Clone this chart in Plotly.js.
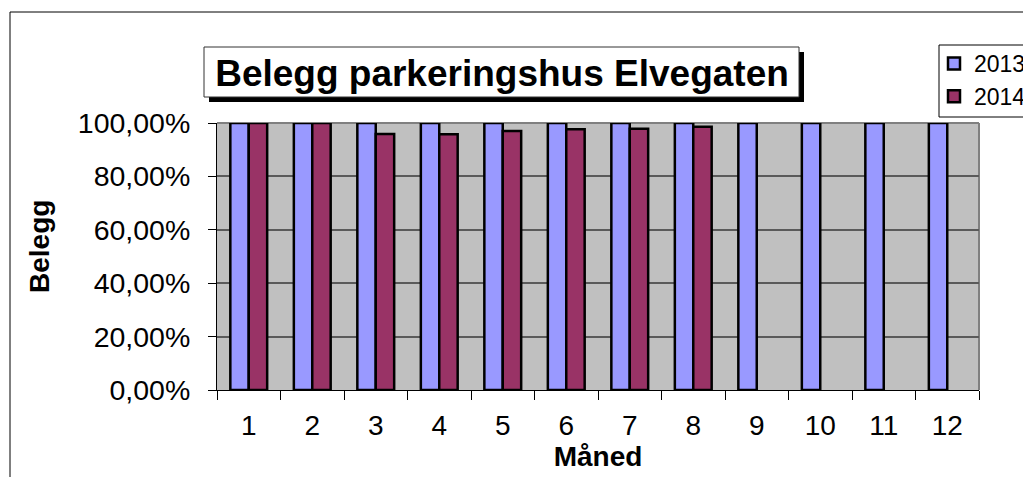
<!DOCTYPE html>
<html>
<head>
<meta charset="utf-8">
<script src="https://cdn.plot.ly/plotly-3.0.1.min.js"></script>
<style>
  html, body { margin: 0; padding: 0; background: #ffffff; }
  #chart { width: 1023px; height: 477px; }
</style>
</head>
<body>
<div id="chart"></div>
<script>
// ---- data ----
const months = ['1','2','3','4','5','6','7','8','9','10','11','12'];
const belegg2013 = [1.00, 1.00, 1.00, 1.00, 1.00, 1.00, 1.00, 1.00, 1.00, 1.00, 1.00, 1.00];
const belegg2014 = [1.00, 1.00, 0.959, 0.958, 0.970, 0.977, 0.978, 0.986, null, null, null, null];
const seriesNames = ['2013', '2014'];
const titleText = 'Belegg parkeringshus Elvegaten';
const xTitle = 'Måned';
const yTitle = 'Belegg';

// ---- layout helpers (pixel -> paper) ----
const L = 217, R = 979, T = 123, B = 390, W = 1023, H = 477;
const px = x => (x - L) / (R - L);
const py = y => (B - y) / (B - T);
const FONT = 'Arial, "Liberation Sans", sans-serif';

const traces = [
  { type: 'bar', name: seriesNames[0], x: months, y: belegg2013,
    marker: { color: '#9999FF', line: { color: '#000000', width: 2.5 } } },
  { type: 'bar', name: seriesNames[1], x: months, y: belegg2014,
    marker: { color: '#993366', line: { color: '#000000', width: 2.5 } } }
];

const shapes = [
  // plot frame (top/right) grey
  { type: 'line', xref: 'paper', yref: 'paper', x0: 0, x1: 1, y0: 1, y1: 1, line: { color: '#808080', width: 2 }, layer: 'below' },
  { type: 'line', xref: 'paper', yref: 'paper', x0: 1, x1: 1, y0: 0, y1: 1, line: { color: '#808080', width: 2 }, layer: 'below' },
  // outer chart border
  { type: 'line', xref: 'paper', yref: 'paper', x0: px(10), x1: px(1030), y0: py(12), y1: py(12), line: { color: '#000000', width: 1 } },
  { type: 'line', xref: 'paper', yref: 'paper', x0: px(10), x1: px(10), y0: py(12), y1: py(490), line: { color: '#000000', width: 1 } },
  // title shadow + box
  { type: 'rect', xref: 'paper', yref: 'paper', x0: px(209), x1: px(804), y0: py(102), y1: py(52), fillcolor: '#000000', line: { width: 0 } },
  { type: 'rect', xref: 'paper', yref: 'paper', x0: px(204), x1: px(799), y0: py(97), y1: py(47), fillcolor: '#ffffff', line: { color: '#333333', width: 1 } },
  // legend box
  { type: 'rect', xref: 'paper', yref: 'paper', x0: px(939), x1: px(1040), y0: py(117), y1: py(45), fillcolor: '#ffffff', line: { color: '#000000', width: 1 } }
];

const layout = {
  width: W, height: H,
  margin: { l: L, r: W - R, t: T, b: H - B, autoexpand: false },
  paper_bgcolor: '#ffffff',
  plot_bgcolor: '#C0C0C0',
  separators: ', ',
  font: { family: FONT, color: '#000000', size: 28 },
  barmode: 'group',
  bargap: 0.42,
  bargroupgap: 0,
  title: {
    text: '<b>' + titleText + '</b>',
    font: { family: FONT, size: 37, color: '#000000' },
    xref: 'container', yref: 'container',
    x: 502 / W, xanchor: 'center',
    y: 1 - 73 / H, yanchor: 'middle'
  },
  xaxis: {
    type: 'category',
    tickson: 'boundaries',
    ticks: 'outside', ticklen: 9, tickwidth: 1, tickcolor: '#000000',
    showline: true, linecolor: '#000000', linewidth: 1,
    showgrid: false, zeroline: false,
    tickfont: { family: FONT, size: 28 },
    ticklabelstandoff: 10,
    title: { text: '<b>' + xTitle + '</b>', font: { family: FONT, size: 28 }, standoff: 0 },
    fixedrange: true
  },
  yaxis: {
    range: [0, 1],
    tickvals: [0, 0.2, 0.4, 0.6, 0.8, 1.0],
    tickformat: '.2%',
    ticks: 'outside', ticklen: 8, tickwidth: 1, tickcolor: '#000000',
    showline: true, linecolor: '#000000', linewidth: 1,
    showgrid: true, gridcolor: '#5a5a5a', gridwidth: 2,
    zeroline: false,
    tickfont: { family: FONT, size: 28.5 },
    ticklabelstandoff: 12,
    fixedrange: true
  },
  annotations: [
    { text: '<b>' + yTitle + '</b>', xref: 'paper', yref: 'paper',
      x: px(39), y: py(247), xanchor: 'center', yanchor: 'middle',
      textangle: -90, showarrow: false, font: { family: FONT, size: 28, color: '#000000' } }
  ],
  showlegend: true,
  legend: {
    x: px(934), xanchor: 'left',
    y: py(42), yanchor: 'top',
    bgcolor: 'rgba(0,0,0,0)',
    borderwidth: 0,
    font: { family: FONT, size: 23, color: '#000000' },
    traceorder: 'normal'
  },
  shapes: shapes
};

Plotly.newPlot('chart', traces, layout, { displayModeBar: false, staticPlot: true });
</script>
</body>
</html>
